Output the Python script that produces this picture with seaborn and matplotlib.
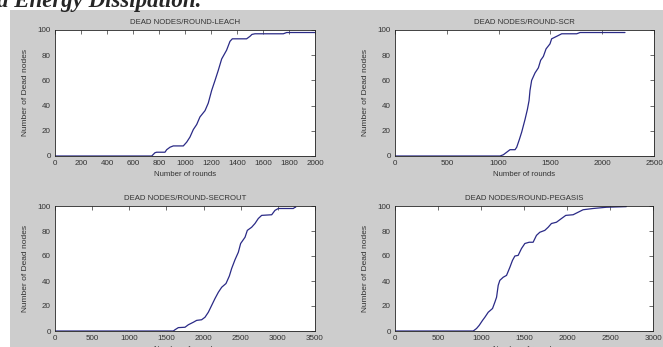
import matplotlib
matplotlib.use('Agg')
import matplotlib.pyplot as plt
import numpy as np
import pandas as pd
import seaborn as sns
from matplotlib.patches import Rectangle

# Datos (ronda, nodos muertos)
leach_rounds = [0, 744, 769, 782, 846, 859, 885, 910, 987, 1013, 1038, 1064, 1090, 1115, 1154,
                1179, 1205, 1231, 1256, 1282, 1320, 1346, 1364, 1474, 1500, 1515, 1538, 1756,
                1782, 2000]
leach_dead = [0, 0, 2.6, 3, 3, 5, 7, 8, 8, 11, 15, 21, 25, 31, 36,
              42, 52, 60, 68, 77, 84, 91, 93, 93, 95, 96.5, 97, 97,
              98, 98]

scr_rounds = [0, 1014, 1046, 1078, 1110, 1159, 1175, 1200, 1223, 1255, 1278, 1294, 1303, 1319,
              1352, 1384, 1406, 1432, 1458, 1496, 1512, 1561, 1609, 1754, 1786, 2220]
scr_dead = [0, 0, 1, 3, 5, 5, 7, 13, 19, 29, 37, 44, 52, 60,
            66, 70, 76, 79, 85, 89, 93, 95, 97, 97, 98, 98]

secrout_rounds = [0, 1593, 1615, 1660, 1750, 1795, 1862, 1907, 1974, 2019, 2064, 2109, 2154,
                  2199, 2244, 2302, 2347, 2378, 2423, 2468, 2499, 2558, 2589, 2647, 2692,
                  2737, 2782, 2917, 2961, 3006, 3208, 3231, 3240]
secrout_dead = [0, 0, 1, 2.7, 3, 5, 7, 8.5, 9, 11, 15, 20.5, 26,
                31, 35, 38, 44, 50, 57, 63, 70, 75, 80.5, 83, 86,
                90, 92.5, 93, 96.5, 98, 98, 99, 99]

pegasis_rounds = [0, 910, 948, 979, 1018, 1045, 1084, 1134, 1161, 1181, 1200, 1219, 1258, 1297,
                  1336, 1366, 1394, 1432, 1471, 1510, 1560, 1606, 1645, 1684, 1742, 1781, 1819,
                  1877, 1936, 1986, 2071, 2129, 2187, 2303, 2458, 2690]
pegasis_dead = [0, 0, 2, 4.5, 8.5, 11, 15, 18, 23, 27, 36.5, 40.5, 43, 44.5,
                51, 56.5, 60, 60.5, 66, 70, 71, 71, 76.5, 79, 80.5, 83, 86,
                87, 90, 92.5, 93, 95, 97, 98, 99, 99.5]

titles = ['DEAD NODES/ROUND-LEACH', 'DEAD NODES/ROUND-SCR',
          'DEAD NODES/ROUND-SECROUT', 'DEAD NODES/ROUND-PEGASIS']
xmax = [2000, 2500, 3500, 3000]
xstep = [200, 500, 500, 500]

series = [(leach_rounds, leach_dead), (scr_rounds, scr_dead),
          (secrout_rounds, secrout_dead), (pegasis_rounds, pegasis_dead)]

sns.set_style('white')
plt.rcParams['font.family'] = ['Liberation Sans', 'DejaVu Sans']

fig = plt.figure(figsize=(6.63, 3.47), dpi=100)
fig.patch.set_facecolor('white')
W, H = 663.0, 347.0
txt = '#333333'

# Fondo gris tipo ventana de MATLAB (detras de los ejes)
fig.patches.append(Rectangle((10 / W, 0), 1 - 10 / W, 1 - 10 / H, transform=fig.transFigure,
                             facecolor='#cdcdcd', edgecolor='none', zorder=-5))

# Encabezado cortado arriba
fig.text(-3 / W, 1 - 7 / H, 'a Energy Dissipation.', family='Liberation Serif',
         fontsize=16.5, fontweight='bold', fontstyle='italic', va='baseline', ha='left',
         zorder=-4)

# posiciones de ejes en pixeles: (izq, der, arriba, abajo)
boxes = [(55, 315, 30, 156), (395, 654, 30, 156),
         (55, 315, 206, 331), (395, 653, 206, 331)]

for i, (b, (xr, yd)) in enumerate(zip(boxes, series)):
    l, r, t, bt = b
    ax = fig.add_axes([l / W, 1 - bt / H, (r - l) / W, (bt - t) / H])
    ax.set_facecolor('white')
    df = pd.DataFrame({'rounds': xr, 'dead': yd})
    sns.lineplot(data=df, x='rounds', y='dead', ax=ax, color='#2a2a86', linewidth=0.9,
                 estimator=None, sort=False)
    ax.set_xlim(0, xmax[i])
    ax.set_ylim(0, 100)
    ax.set_xticks(np.arange(0, xmax[i] + 1, xstep[i]))
    ax.set_yticks(np.arange(0, 101, 20))
    ax.tick_params(direction='in', top=True, right=True, length=3, width=0.5,
                   labelsize=5.8, pad=3, labelcolor=txt, color='#333333')
    for s in ax.spines.values():
        s.set_color('#222222')
        s.set_linewidth(0.6)
    ax.set_title(titles[i], fontsize=5.6, color=txt, pad=4)
    ax.set_xlabel('Number of rounds', fontsize=5.6, color=txt, labelpad=2.5)
    ax.set_ylabel('Number of Dead nodes', fontsize=6, color=txt, labelpad=6)

fig.savefig('out.png', dpi=100, facecolor=fig.get_facecolor())
